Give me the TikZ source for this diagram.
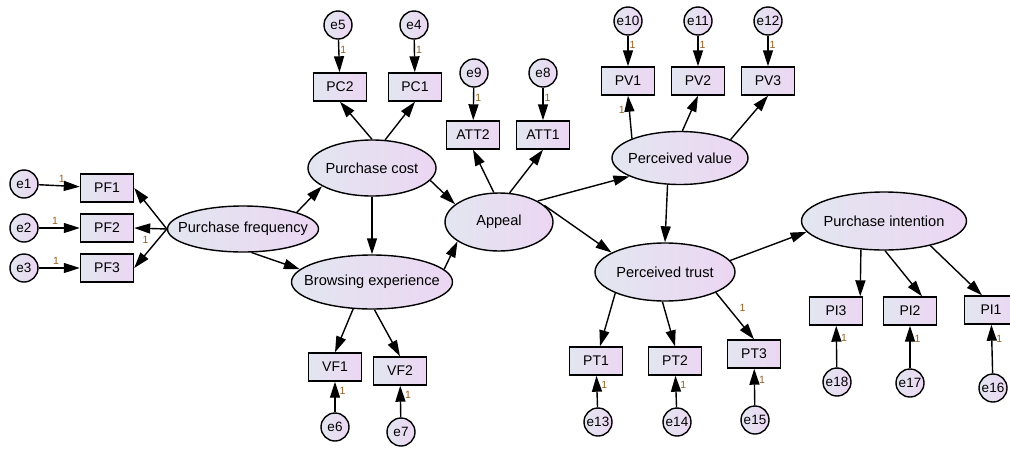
\documentclass[tikz,border=0pt]{standalone}
\usepackage{fontspec}
\setmainfont{Liberation Sans}
\definecolor{shl}{RGB}{226,230,240}
\definecolor{shr}{RGB}{236,214,242}
\definecolor{onecol}{RGB}{150,95,35}
\usetikzlibrary{positioning,arrows.meta,shapes.geometric}
\newcommand{\lname}[1]{\makebox[0pt]{#1}}

\begin{document}
\begin{tikzpicture}
    [x=1pt,y=-1pt,line width=1.4pt,
      latent/.style={ellipse,draw,left color=shl,right color=shr,inner sep=0pt,
        font=\fontsize{14.6}{16}\selectfont},
      obs/.style={rectangle,draw,left color=shl,right color=shr,inner sep=0pt,
        minimum width=53pt,minimum height=28pt,font=\fontsize{14}{15}\selectfont},
      err/.style={circle,draw,left color=shl,right color=shr,inner sep=0pt,
        minimum size=28pt,font=\fontsize{13.5}{15}\selectfont},
      path/.style={-{Triangle[length=16pt,width=10pt]}},
      one/.style={font=\fontsize{10.5}{12}\selectfont,text=onecol,inner sep=1pt}]

  \useasboundingbox (0,0) rectangle (1010,448);

  % latent variables
  \node [latent,minimum width=151pt,minimum height=46pt] (pf) at (243,229) {\lname{Purchase frequency}};
  \node [latent,minimum width=128pt,minimum height=56pt] (pc) at (372,168) {\lname{Purchase cost}};
  \node [latent,minimum width=161pt,minimum height=54pt] (be) at (372,282) {\lname{Browsing experience}};
  \node [latent,minimum width=108pt,minimum height=58pt] (ap) at (499,222) {\lname{Appeal}};
  \node [latent,minimum width=136pt,minimum height=53pt] (pv) at (680,158) {\lname{Perceived value}};
  \node [latent,minimum width=140pt,minimum height=58pt] (pt) at (665,272) {\lname{Perceived trust}};
  \node [latent,minimum width=165pt,minimum height=58pt] (pi) at (884,221) {\lname{Purchase intention}};

  % observed variables
  \node [obs] (pf1) at (107,188) {PF1};
  \node [obs] (pf2) at (107,228) {PF2};
  \node [obs] (pf3) at (107,268) {PF3};
  \node [obs] (pc2) at (340,87) {PC2};
  \node [obs] (pc1) at (415,87) {PC1};
  \node [obs] (att2) at (473,135) {ATT2};
  \node [obs] (att1) at (543,135) {ATT1};
  \node [obs] (pv1) at (628,81) {PV1};
  \node [obs] (pv2) at (698,81) {PV2};
  \node [obs] (pv3) at (768,81) {PV3};
  \node [obs] (vf1) at (335,367) {VF1};
  \node [obs] (vf2) at (400,371) {VF2};
  \node [obs] (pt1) at (596,361) {PT1};
  \node [obs] (pt2) at (675,361) {PT2};
  \node [obs] (pt3) at (754,354) {PT3};
  \node [obs] (pi3) at (836,311) {PI3};
  \node [obs] (pi2) at (910,311) {PI2};
  \node [obs] (pi1) at (991,310) {PI1};

  % error terms
  \node [err] (e1) at (24,184) {e1};
  \node [err] (e2) at (24,228) {e2};
  \node [err] (e3) at (24,268) {e3};
  \node [err] (e5) at (338,25) {e5};
  \node [err] (e4) at (414,25) {e4};
  \node [err] (e9) at (474,73) {e9};
  \node [err] (e8) at (543,73) {e8};
  \node [err] (e10) at (628,21) {e10};
  \node [err] (e11) at (698,21) {e11};
  \node [err] (e12) at (768,21) {e12};
  \node [err] (e6) at (335,427) {e6};
  \node [err] (e7) at (401,432) {e7};
  \node [err] (e13) at (598,422) {e13};
  \node [err] (e14) at (677,422) {e14};
  \node [err] (e15) at (755,420) {e15};
  \node [err] (e18) at (837,382) {e18};
  \node [err] (e17) at (910,383) {e17};
  \node [err] (e16) at (993,388) {e16};

  % errors to indicators
  \draw [path] (e1) -- node [one,above=2pt,pos=.56] {1} (pf1);
  \draw [path] (e2) -- node [one,above=2pt,pos=.4] {1} (pf2);
  \draw [path] (e3) -- node [one,above=2pt,pos=.42] {1} (pf3);
  \foreach \e/\v in {e5/pc2,e4/pc1,e9/att2,e8/att1,e10/pv1,e11/pv2,e12/pv3}
    \draw [path] (\e) -- node [one,right,pos=.3] {1} (\v);
  \foreach \e/\v in {e6/vf1,e7/vf2,e13/pt1,e14/pt2,e15/pt3,e18/pi3,e17/pi2,e16/pi1}
    \draw [path] (\e) -- node [one,right=3pt,pos=.7] {1} (\v);

  % measurement paths
  \draw [path] (pf.west) -- (pf1.east);
  \draw [path] (pf.west) -- (pf2.east);
  \draw [path] (pf.west) -- node [one,pos=.65,yshift=14pt] {1} (pf3.east);
  \draw [path] (pc.north) -- (pc2.south);
  \draw [path] (pc.65) -- (pc1.south);
  \draw [path] (ap.100) -- (att2.south);
  \draw [path] (ap.70) -- (att1.south);
  \draw [path] (pv.158) -- node [one,left=3pt,pos=.67] {1} (pv1.south);
  \draw [path] (pv.85) -- (pv2.south);
  \draw [path] (pv.20) -- (pv3.south);
  \draw [path] (be.-125) -- (vf1.north);
  \draw [path] (be.-85) -- (vf2.north);
  \draw [path] (pt.203) -- ([xshift=4pt]pt1.north);
  \draw [path] (pt.-95) -- (pt2.north);
  \draw [path] (pt.-22) -- node [one,pos=.33,xshift=14pt] {1} (pt3.north);
  \draw [path] (pi.-129) -- ([xshift=-3pt]pi3.north east);
  \draw [path] (pi.-88) -- ([xshift=12pt]pi2.north);
  \draw [path] (pi.-28) -- ([xshift=-9pt]pi1.north);

  % structural paths
  \draw [path] (pf.north east) -- (pc.200);
  \draw [path] (pf.-70) -- (be.170);
  \draw [path] (pc.-12) -- (ap.158);
  \draw [path] (pc.south) -- (be.north);
  \draw [path] (be.10) -- (ap.-155);
  \draw [path] (ap.north east) -- (pv.200);
  \draw [path] (ap.20) -- (pt.160);
  \draw [path] (pv.-115) -- (pt.north);
  \draw [path] (pt.10) -- (pi.188);
\end{tikzpicture}
\end{document}
